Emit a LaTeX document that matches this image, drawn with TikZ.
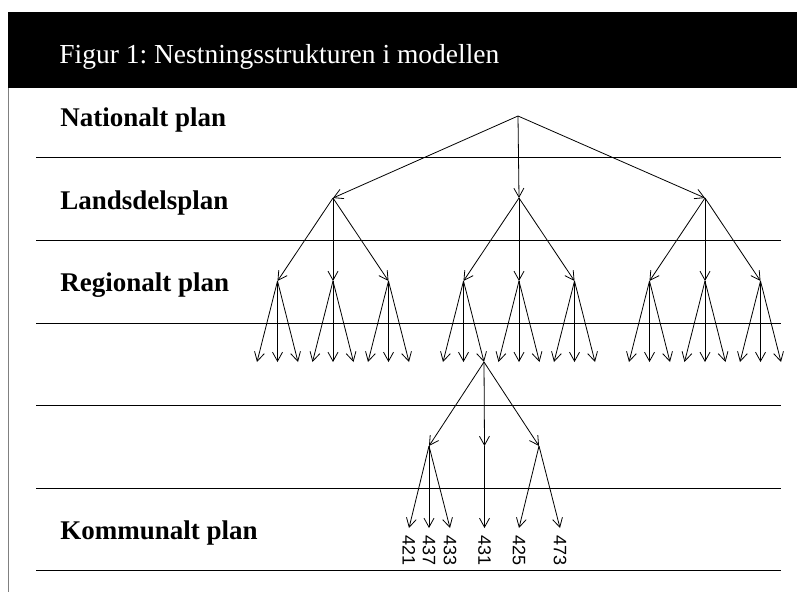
\documentclass[tikz,border=0pt]{standalone}
\usepackage{fontspec}
\setmainfont{Liberation Serif}
\newfontfamily\numfont{Liberation Sans}
\frenchspacing
\usetikzlibrary{arrows.meta}

\tikzset{
  planlabel/.style={font=\fontsize{27}{30}\selectfont\bfseries, anchor=base west, inner sep=0pt},
  kommune/.style={font=\numfont\fontsize{18}{20}\selectfont, rotate=-90, anchor=west, inner sep=7pt, outer sep=0pt},
  knot/.style={inner sep=0pt, minimum size=0pt, outer sep=0pt},
}

\begin{document}
\begin{tikzpicture}[x=1pt, y=-1pt, >={Straight Barb[length=9pt,width=10pt]}, line width=0.8pt]
    \useasboundingbox (0,0) rectangle (797,592);
    % header
    \fill (8,12) rectangle (797,88);
    \node [anchor=base west, inner sep=0pt, text=white, font=\fontsize{27.5}{30}\selectfont] (title) at (59,63) {Figur 1: Nestningsstrukturen i modellen};
    \draw [gray] (8.5,88) -- (8.5,592);
    % levels
    \foreach \y in {157,240,323,405,488,570}
      \draw (36,\y) -- (781,\y);
    \node [planlabel] (nasjonal) at (60,126) {Nationalt plan};
    \node [planlabel] (landsdel) at (60,209) {Landsdelsplan};
    \node [planlabel] (region) at (60,291) {Regionalt plan};
    \node [planlabel] (kommunal) at (60,539) {Kommunalt plan};
    % tree
    \node [knot] (N) at (518,116) {};
    \foreach \i/\x in {1/333, 2/519, 3/705} {
      \node [knot] (L\i) at (\x,198) {};
      \path (N) edge [->] (L\i);
      \foreach \j in {1,2,3} {
        \node [knot] (R\i_\j) at ({\x+(\j-2)*55.5},281) {};
        \path (L\i) edge [->] (R\i_\j);
        \foreach \k in {1,2,3} {
          \node [knot] (S\i_\j_\k) at ({\x+(\j-2)*55.5+(\k-2)*20.5},362) {};
          \path (R\i_\j) edge [->] (S\i_\j_\k);
        }
      }
    }
    \node [knot] (K1) at (429,446) {};
    \node [knot] (K2) at (484.5,446) {};
    \node [knot] (K3) at (539,446) {};
    \path (S2_1_3) edge [->] (K1);
    \path (S2_1_3) edge [->] (K2);
    \path (S2_1_3) edge [->] (K3);
    \node [kommune] (k421) at (409,528) {421};
    \node [kommune] (k437) at (429,528) {437};
    \node [kommune] (k433) at (450,528) {433};
    \node [kommune] (k431) at (484.5,528) {431};
    \node [kommune] (k425) at (519,528) {425};
    \node [kommune] (k473) at (560,528) {473};
    \path (K1) edge [->] (k421.west);
    \path (K1) edge [->] (k437.west);
    \path (K1) edge [->] (k433.west);
    \path (K2) edge [->] (k431.west);
    \path (K3) edge [->] (k425.west);
    \path (K3) edge [->] (k473.west);
\end{tikzpicture}
\end{document}
